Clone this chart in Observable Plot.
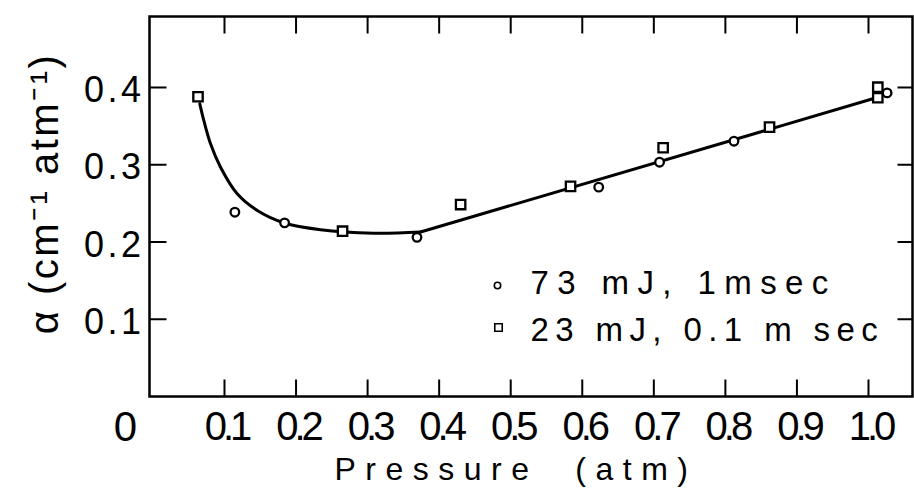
<!DOCTYPE html>
<html><head><meta charset="utf-8">
<script src="https://cdn.jsdelivr.net/npm/d3@7"></script>
<script src="https://cdn.jsdelivr.net/npm/@observablehq/plot@0.6"></script>
<style>
body{margin:0;background:#fff}
#chart svg{display:block}
#chart g[aria-label="x-axis tick label"] text{letter-spacing:-4px}
#chart g[aria-label="y-axis tick label"] text{letter-spacing:3.5px}
#chart g[aria-description="x-title"] text{letter-spacing:9.5px}
#chart g[aria-description="y-title"] text{letter-spacing:2.5px}
#chart g[aria-description="legend-1"] text{letter-spacing:8.4px}
#chart g[aria-description="legend-2"] text{letter-spacing:6.4px}
</style>
</head><body><div id="chart"></div>
<script>
// ---- data ----
const xTicks = [0.1, 0.2, 0.3, 0.4, 0.5, 0.6, 0.7, 0.8, 0.9, 1.0];
const yTicks = [0.1, 0.2, 0.3, 0.4];
const originLabel = "0";
const xLabel = "Pressure  (atm)";
const yLabel = "α (cm⁻¹ atm⁻¹)";
const seriesLabels = ["73 mJ, 1msec", "23 mJ, 0.1 m sec"];

// 73 mJ, 1 msec (circles)
const circleP = [0.1145, 0.184, 0.369, 0.623, 0.708, 0.812, 1.026];
const circleA = [0.2386, 0.2248, 0.206, 0.271, 0.3033, 0.3305, 0.393];
// 23 mJ, 0.1 msec (squares)
const squareP = [0.063, 0.265, 0.430, 0.5836, 0.713, 0.8617, 1.013, 1.013];
const squareA = [0.388, 0.214, 0.2485, 0.272, 0.322, 0.3487, 0.4004, 0.3867];
// drawn curve: curved low-pressure part
const curveP = [0.0655, 0.0711, 0.0805, 0.0945, 0.1178, 0.1458, 0.1829, 0.2342, 0.3087, 0.374];
const curveA = [0.3789, 0.3573, 0.3271, 0.2968, 0.2624, 0.2408, 0.2249, 0.2158, 0.2114, 0.2129];
// drawn curve: straight high-pressure part
const lineP = [0.374, 1.012];
const lineA = [0.2129, 0.387];

const circles = circleP.map((p, i) => ({p, a: circleA[i]}));
const squares = squareP.map((p, i) => ({p, a: squareA[i]}));
const curve = curveP.map((p, i) => ({p, a: curveA[i]}));
const straight = lineP.map((p, i) => ({p, a: lineA[i]}));

const font = "'Liberation Sans', Arial, sans-serif";
const ink = "#000";
const W = 914, H = 488, ML = 149, MR = 2, MT = 16, MB = 92;
const fw = W - ML - MR, fh = H - MT - MB;
const xDom = [-0.0048, 1.0615], yDom = [0, 0.4919];
// inward tick lengths (pixels) expressed in scale units
const tx = 17 * (yDom[1] - yDom[0]) / fh;
const tyL = 17 * (xDom[1] - xDom[0]) / fw;
const tyR = 15 * (xDom[1] - xDom[0]) / fw;

const plot = Plot.plot({
  width: W, height: H,
  marginLeft: ML, marginRight: MR, marginTop: MT, marginBottom: MB,
  x: {domain: xDom},
  y: {domain: yDom},
  style: {fontFamily: font, background: "#fff", color: ink},
  marks: [
    Plot.frame({stroke: ink, strokeWidth: 2.5}),
    // inward ticks on all four sides (drawn as paths)
    Plot.link(xTicks, {x1: d => d, x2: d => d, y1: yDom[0], y2: yDom[0] + tx, stroke: ink, strokeWidth: 2}),
    Plot.link(xTicks, {x1: d => d, x2: d => d, y1: yDom[1] - tx, y2: yDom[1], stroke: ink, strokeWidth: 2}),
    Plot.link(yTicks, {y1: d => d, y2: d => d, x1: xDom[0], x2: xDom[0] + tyL, stroke: ink, strokeWidth: 2}),
    Plot.link(yTicks, {y1: d => d, y2: d => d, x1: xDom[1] - tyR, x2: xDom[1], stroke: ink, strokeWidth: 2}),
    // tick labels
    Plot.axisX(xTicks, {anchor: "bottom", tickSize: 0, tickPadding: 15, dx: 2, tickFormat: d3.format(".1f"), label: null, fontSize: 40}),
    Plot.axisY(yTicks, {anchor: "left", tickSize: 0, tickPadding: 5, dy: 3, tickFormat: d3.format(".1f"), label: null, fontSize: 36}),
    Plot.text([originLabel], {text: d => d, frameAnchor: "bottom-left", dx: -24, dy: 15, lineAnchor: "top", fontSize: 42, textAnchor: "middle"}),
    // axis titles
    Plot.text([xLabel], {text: d => d, frameAnchor: "bottom", dx: -15, dy: 61, lineAnchor: "top", textAnchor: "middle", fontSize: 32, ariaDescription: "x-title"}),
    Plot.text([yLabel], {text: d => d, frameAnchor: "left", rotate: -90, dx: -104, dy: -13, lineAnchor: "middle", textAnchor: "middle", fontSize: 40, ariaDescription: "y-title"}),
    // fitted curve and points
    Plot.line(curve, {x: "p", y: "a", curve: "catmull-rom", stroke: ink, strokeWidth: 3}),
    Plot.line(straight, {x: "p", y: "a", stroke: ink, strokeWidth: 3}),
    Plot.dot(circles, {x: "p", y: "a", r: 4.3, symbol: "circle", stroke: ink, strokeWidth: 2.3, fill: "#fff"}),
    Plot.dot(squares, {x: "p", y: "a", r: 5.3, symbol: "square", stroke: ink, strokeWidth: 2.3, fill: "#fff"}),
    // legend
    Plot.dot([seriesLabels[0]], {frameAnchor: "top-left", dx: 348, dy: 269, r: 3.2, symbol: "circle", stroke: ink, strokeWidth: 1.6, fill: "#fff"}),
    Plot.dot([seriesLabels[1]], {frameAnchor: "top-left", dx: 349, dy: 311, r: 4.2, symbol: "square", stroke: ink, strokeWidth: 1.6, fill: "#fff"}),
    Plot.text([seriesLabels[0]], {text: d => d, frameAnchor: "top-left", dx: 381, dy: 266.5, lineAnchor: "middle", textAnchor: "start", fontSize: 33, ariaDescription: "legend-1"}),
    Plot.text([seriesLabels[1]], {text: d => d, frameAnchor: "top-left", dx: 381, dy: 313.5, lineAnchor: "middle", textAnchor: "start", fontSize: 33, ariaDescription: "legend-2"})
  ]
});

document.getElementById("chart").appendChild(plot);
</script>
</body></html>
